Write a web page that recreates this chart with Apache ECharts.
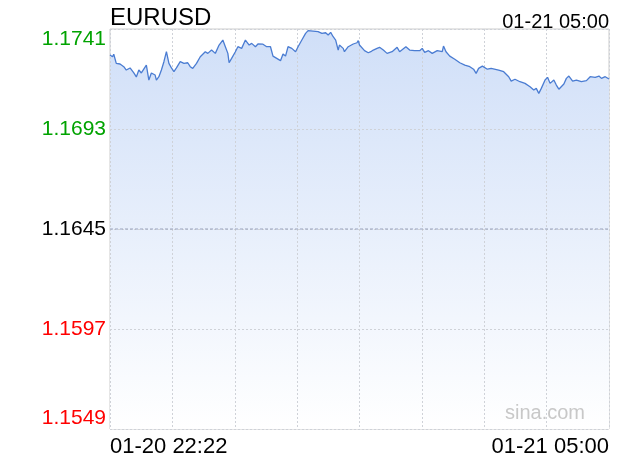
<!DOCTYPE html>
<html>
<head>
<meta charset="utf-8">
<script src="https://cdn.jsdelivr.net/npm/echarts@6/dist/echarts.min.js"></script>
<style>html,body{margin:0;padding:0;background:#fff}#c{width:620px;height:460px}</style>
</head>
<body>
<div id="c"></div>
<script>
// Minutes since 01-20 22:22
var minutes = [0,2,3,5,8,11,13,16,19,21,23,25,29,31,33,36,37,39,41,43,45,47,49,51,53,56,59,62,64,66,69,72,76,78,81,84,87,90,92,94,95,97,100,102,105,108,111,113,116,118,122,125,128,130,133,136,138,140,142,145,148,150,153,156,158,162,166,169,172,174,176,178,180,182,183,186,187,190,191,194,197,198,199,203,206,208,210,213,215,218,221,225,229,231,236,239,243,247,249,251,254,257,261,265,266,268,271,275,279,283,287,290,292,294,297,301,304,310,314,318,320,323,327,331,335,338,340,342,344,347,349,351,354,356,358,362,364,366,369,372,376,380,383,387,390,392,395,398];
var prices = [1.17285,1.17277,1.17289,1.17245,1.17242,1.17229,1.17213,1.17223,1.17199,1.17180,1.17213,1.17199,1.17237,1.17165,1.17199,1.17189,1.17165,1.17181,1.17213,1.17253,1.17301,1.17245,1.17223,1.17205,1.17223,1.17253,1.17245,1.17248,1.17229,1.17221,1.17245,1.17277,1.17301,1.17293,1.17309,1.17293,1.17333,1.17357,1.17325,1.17293,1.17248,1.17269,1.17301,1.17325,1.17317,1.17357,1.17333,1.17341,1.17325,1.17338,1.17337,1.17325,1.17325,1.17280,1.17269,1.17258,1.17290,1.17280,1.17325,1.17317,1.17301,1.17325,1.17357,1.17389,1.17402,1.17400,1.17397,1.17389,1.17392,1.17381,1.17394,1.17373,1.17357,1.17309,1.17333,1.17317,1.17301,1.17325,1.17317,1.17338,1.17344,1.17354,1.17333,1.17306,1.17296,1.17301,1.17309,1.17317,1.17322,1.17309,1.17293,1.17301,1.17322,1.17301,1.17325,1.17309,1.17306,1.17306,1.17317,1.17298,1.17306,1.17293,1.17306,1.17301,1.17328,1.17301,1.17280,1.17265,1.17248,1.17237,1.17229,1.17217,1.17197,1.17221,1.17232,1.17217,1.17221,1.17213,1.17205,1.17181,1.17160,1.17169,1.17157,1.17149,1.17133,1.17117,1.17125,1.17101,1.17125,1.17165,1.17178,1.17149,1.17165,1.17141,1.17121,1.17146,1.17173,1.17184,1.17160,1.17165,1.17157,1.17162,1.17181,1.17178,1.17184,1.17173,1.17181,1.17170];
var yTicks = [1.1549, 1.1597, 1.1645, 1.1693, 1.1741];
var prevClose = 1.1645;
var xTickValues = [0, 398];
var xTickLabels = ['01-20 22:22', '01-21 05:00'];
var symbolName = 'EURUSD';
var timeStamp = '01-21 05:00';

var data = minutes.map(function (m, i) { return [m, prices[i]]; });
var refLine = [[xTickValues[0], prevClose], [xTickValues[1], prevClose]];
var FONT = '"Liberation Sans", Arial, sans-serif';

var chart = echarts.init(document.getElementById('c'), null, {renderer: 'canvas'});
chart.setOption({
  animation: false,
  backgroundColor: '#fff',
  title: [
    {text: symbolName, left: 110, top: 6, padding: 0, textStyle: {fontSize: 24, fontWeight: 'normal', color: '#000', fontFamily: FONT}},
    {text: timeStamp, right: 11, top: 12, padding: 0, textStyle: {fontSize: 20, fontWeight: 'normal', color: '#000', fontFamily: FONT}}
  ],
  graphic: [{
    type: 'text', right: 35, top: 403, z: 100,
    style: {text: 'sina.com', fill: '#c8c8c8', font: '20px ' + FONT}
  }],
  grid: {left: 110, right: 11, top: 29, bottom: 31, show: true, borderColor: '#cccccc', borderWidth: 1, backgroundColor: 'transparent'},
  xAxis: {
    type: 'value', min: 0, max: 398, interval: 49.75, z: 5,
    axisLine: {show: false}, axisTick: {show: false},
    splitLine: {show: true, lineStyle: {color: '#cfd2d8', type: [2, 2], width: 1}},
    axisLabel: {
      customValues: xTickValues,
      alignMinLabel: 'left', alignMaxLabel: 'right',
      margin: 7, fontSize: 22, color: '#000', fontFamily: FONT,
      formatter: function (v) { var i = xTickValues.indexOf(v); return i >= 0 ? xTickLabels[i] : ''; }
    }
  },
  yAxis: {
    type: 'value', min: yTicks[0], max: yTicks[yTicks.length - 1], z: 5,
    axisLine: {show: false},
    axisTick: {show: false, customValues: yTicks},
    splitLine: {show: true, lineStyle: {color: '#cfd2d8', type: [2, 2], width: 1}},
    axisLabel: {
      customValues: yTicks,
      verticalAlignMinLabel: 'bottom', verticalAlignMaxLabel: 'top',
      margin: 4, fontSize: 21, fontFamily: FONT,
      formatter: function (v) { return v.toFixed(4); },
      color: function (v) {
        var val = typeof v === 'string' ? parseFloat(v) : v;
        if (val > prevClose + 1e-9) return '#00a300';
        if (val < prevClose - 1e-9) return '#ff0000';
        return '#000000';
      }
    }
  },
  series: [{
    type: 'line', data: data, showSymbol: false, symbol: 'none', z: 3, silent: true,
    lineStyle: {width: 0, opacity: 0},
    areaStyle: {opacity: 1, color: new echarts.graphic.LinearGradient(0, 0, 0, 1, [
      {offset: 0, color: '#d0dff8'},
      {offset: 1, color: '#ffffff'}
    ])}
  }, {
    type: 'line', data: refLine, showSymbol: false, symbol: 'none', silent: true, z: 6,
    lineStyle: {color: '#9aa3bd', type: [3, 2], width: 1}
  }, {
    type: 'line', data: data, showSymbol: false, symbol: 'none', z: 8,
    lineStyle: {color: '#4a7cd2', width: 1.3}
  }]
});
</script>
</body>
</html>
